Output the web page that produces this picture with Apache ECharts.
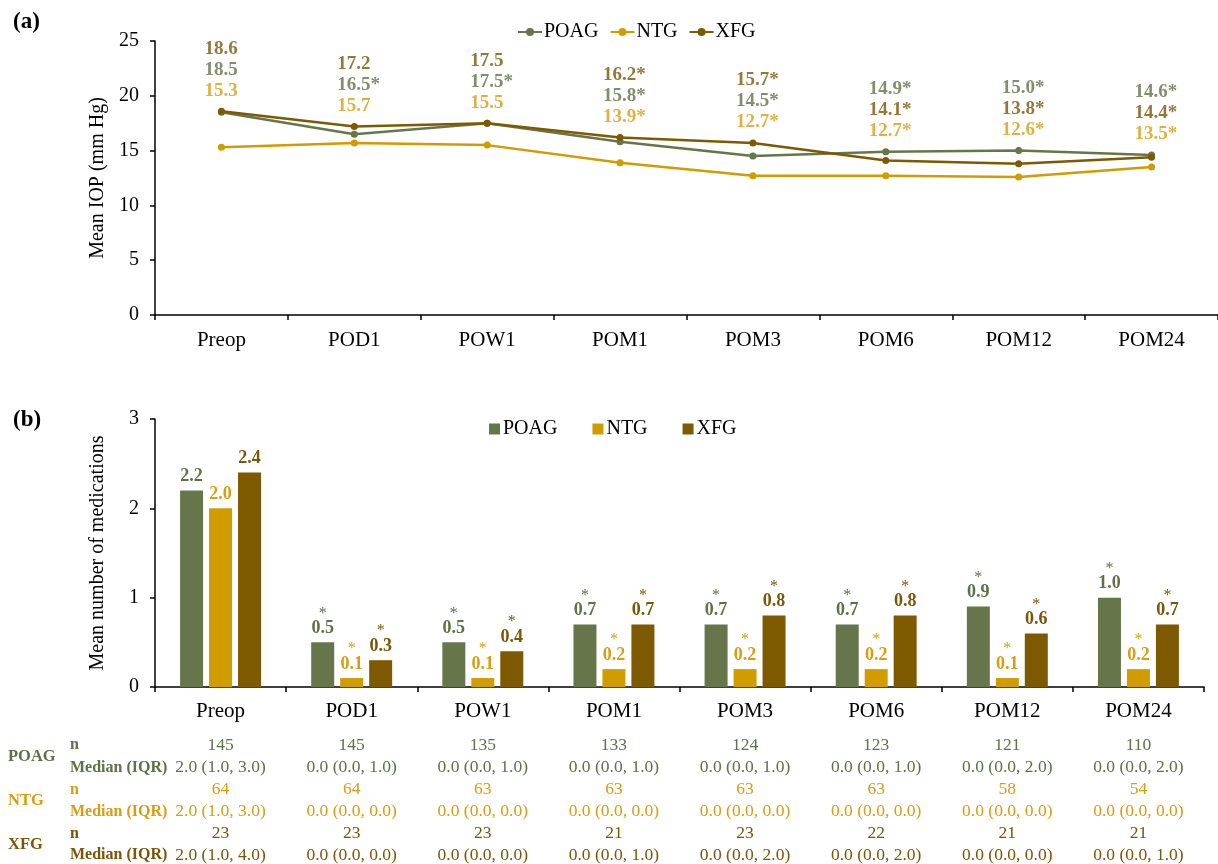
<!DOCTYPE html>
<html>
<head>
<meta charset="utf-8">
<script src="https://cdn.jsdelivr.net/npm/echarts@6/dist/echarts.min.js"></script>
<style>
  html, body { margin: 0; padding: 0; background: #ffffff; }
  #chart { width: 1218px; height: 864px; }
</style>
</head>
<body>
<div id="chart"></div>
<script>
// Visit time points
const categories = ['Preop', 'POD1', 'POW1', 'POM1', 'POM3', 'POM6', 'POM12', 'POM24'];

// (a) Mean IOP, mm Hg
const iopPOAG = [18.5, 16.5, 17.5, 15.8, 14.5, 14.9, 15.0, 14.6];
const iopNTG  = [15.3, 15.7, 15.5, 13.9, 12.7, 12.7, 12.6, 13.5];
const iopXFG  = [18.6, 17.2, 17.5, 16.2, 15.7, 14.1, 13.8, 14.4];
// significant change from preop (1 = marked with *)
const iopSigPOAG = [0, 1, 1, 1, 1, 1, 1, 1];
const iopSigNTG  = [0, 0, 0, 1, 1, 1, 1, 1];
const iopSigXFG  = [0, 0, 0, 1, 1, 1, 1, 1];

// (b) Mean number of glaucoma medications
const medPOAG = [2.2, 0.5, 0.5, 0.7, 0.7, 0.7, 0.9, 1.0];
const medNTG  = [2.0, 0.1, 0.1, 0.2, 0.2, 0.2, 0.1, 0.2];
const medXFG  = [2.4, 0.3, 0.4, 0.7, 0.8, 0.8, 0.6, 0.7];
const medSigPOAG = [0, 1, 1, 1, 1, 1, 1, 1];
const medSigNTG  = [0, 1, 1, 1, 1, 1, 1, 1];
const medSigXFG  = [0, 1, 1, 1, 1, 1, 1, 1];

// Table under panel (b)
const nPOAG = [145, 145, 135, 133, 124, 123, 121, 110];
const nNTG  = [64, 64, 63, 63, 63, 63, 58, 54];
const nXFG  = [23, 23, 23, 21, 23, 22, 21, 21];
const medianPOAG = ['2.0 (1.0, 3.0)', '0.0 (0.0, 1.0)', '0.0 (0.0, 1.0)', '0.0 (0.0, 1.0)', '0.0 (0.0, 1.0)', '0.0 (0.0, 1.0)', '0.0 (0.0, 2.0)', '0.0 (0.0, 2.0)'];
const medianNTG  = ['2.0 (1.0, 3.0)', '0.0 (0.0, 0.0)', '0.0 (0.0, 0.0)', '0.0 (0.0, 0.0)', '0.0 (0.0, 0.0)', '0.0 (0.0, 0.0)', '0.0 (0.0, 0.0)', '0.0 (0.0, 0.0)'];
const medianXFG  = ['2.0 (1.0, 4.0)', '0.0 (0.0, 0.0)', '0.0 (0.0, 0.0)', '0.0 (0.0, 1.0)', '0.0 (0.0, 2.0)', '0.0 (0.0, 2.0)', '0.0 (0.0, 0.0)', '0.0 (0.0, 1.0)'];

const FONT = '"Liberation Serif", "Times New Roman", serif';
const COL = { POAG: '#66764a', NTG: '#d09c00', XFG: '#7d5a00' };
const TXT = { POAG: '#617046', NTG: '#d69e10', XFG: '#7a5606' };

const groups = [
  { key: 'POAG', iop: iopPOAG, iopSig: iopSigPOAG, med: medPOAG, medSig: medSigPOAG, n: nPOAG, median: medianPOAG },
  { key: 'NTG',  iop: iopNTG,  iopSig: iopSigNTG,  med: medNTG,  medSig: medSigNTG,  n: nNTG,  median: medianNTG },
  { key: 'XFG',  iop: iopXFG,  iopSig: iopSigXFG,  med: medXFG,  medSig: medSigXFG,  n: nXFG,  median: medianXFG }
];

const chart = echarts.init(document.getElementById('chart'), null, { renderer: 'canvas' });

const axisLineStyle = { color: '#000', width: 1.5 };
const tickLabel = { color: '#000', fontFamily: FONT, fontSize: 20 };

// stacked value labels above each time point of panel (a), highest value first
const labelOrder = ['XFG', 'POAG', 'NTG'];
const iopRich = {};
groups.forEach(g => {
  iopRich[g.key] = { color: TXT[g.key], fontFamily: FONT, fontWeight: 'bold', fontSize: 19, lineHeight: 21 };
});
const iopTop = categories.map((c, i) => Math.max(iopPOAG[i], iopNTG[i], iopXFG[i]));

function iopLabel(p) {
  const i = p.dataIndex;
  const items = labelOrder.map(k => groups.find(g => g.key === k));
  items.sort((a, b) => b.iop[i] - a.iop[i]);
  return items.map(g => '{' + g.key + '|' + g.iop[i].toFixed(1) + (g.iopSig[i] ? '*' : '') + '}').join('\n');
}

const lineSeries = groups.map(g => ({
  name: g.key,
  type: 'line',
  xAxisIndex: 0,
  yAxisIndex: 0,
  data: g.iop,
  symbol: 'circle',
  symbolSize: 7,
  lineStyle: { color: COL[g.key], width: 2.5 },
  itemStyle: { color: COL[g.key] },
  z: g.key === 'NTG' ? 2 : 3,
  animation: false
}));

const barSeries = groups.map(g => ({
  name: g.key,
  type: 'bar',
  xAxisIndex: 1,
  yAxisIndex: 1,
  data: g.med,
  barWidth: 23,
  barGap: '26%',
  itemStyle: { color: COL[g.key] },
  label: {
    show: true,
    position: 'top',
    distance: 4,
    formatter: p => (g.medSig[p.dataIndex] ? '{s|*}\n' : '') + '{v|' + g.med[p.dataIndex].toFixed(1) + '}',
    rich: {
      s: { color: TXT[g.key], fontFamily: FONT, fontSize: 16, lineHeight: 9, padding: [0, 0, 1, 0] },
      v: { color: TXT[g.key], fontFamily: FONT, fontWeight: 'bold', fontSize: 18, lineHeight: 20 }
    }
  },
  animation: false
}));

const option = {
  backgroundColor: '#ffffff',
  animation: false,
  title: [
    { text: '(a)', left: 8, top: 6, textStyle: { fontFamily: FONT, fontWeight: 'bold', fontSize: 23, color: '#000' } },
    { text: '(b)', left: 8, top: 404, textStyle: { fontFamily: FONT, fontWeight: 'bold', fontSize: 23, color: '#000' } }
  ],
  legend: [
    {
      data: ['POAG', 'NTG', 'XFG'],
      left: 512, top: 17,
      itemWidth: 24, itemHeight: 10, itemGap: 11,
      textStyle: { fontFamily: FONT, fontSize: 20, color: '#000', padding: [0, 0, 0, -3] },
      selectedMode: false
    },
    {
      data: [{ name: 'POAG', icon: 'rect' }, { name: 'NTG', icon: 'rect' }, { name: 'XFG', icon: 'rect' }],
      left: 484, top: 414,
      itemWidth: 11, itemHeight: 11, itemGap: 35,
      textStyle: { fontFamily: FONT, fontSize: 20, color: '#000', padding: [0, 0, 0, -2] },
      selectedMode: false
    }
  ],
  grid: [
    { left: 155, right: 0, top: 41, bottom: 864 - 315 },
    { left: 155, right: 14, top: 419, bottom: 864 - 687 }
  ],
  xAxis: [
    {
      type: 'category', gridIndex: 0, data: categories, boundaryGap: true,
      axisLine: { lineStyle: axisLineStyle },
      axisTick: { show: true, length: 5, lineStyle: axisLineStyle },
      axisLabel: Object.assign({ margin: 15 }, tickLabel, { fontSize: 21 })
    },
    {
      type: 'category', gridIndex: 1, data: categories, boundaryGap: true,
      axisLine: { lineStyle: axisLineStyle },
      axisTick: { show: true, length: 5, lineStyle: axisLineStyle },
      axisLabel: Object.assign({ margin: 14 }, tickLabel, { fontSize: 21 })
    }
  ],
  yAxis: [
    {
      type: 'value', gridIndex: 0, min: 0, max: 25, interval: 5,
      name: 'Mean IOP (mm Hg)', nameLocation: 'middle', nameGap: 47,
      nameTextStyle: { fontFamily: FONT, fontSize: 20, color: '#000' },
      axisLine: { show: true, lineStyle: axisLineStyle },
      axisTick: { show: true, length: 5, lineStyle: axisLineStyle },
      axisLabel: Object.assign({ margin: 16 }, tickLabel),
      splitLine: { show: false }
    },
    {
      type: 'value', gridIndex: 1, min: 0, max: 3, interval: 1,
      name: 'Mean number of medications', nameLocation: 'middle', nameGap: 47,
      nameTextStyle: { fontFamily: FONT, fontSize: 20, color: '#000' },
      axisLine: { show: true, lineStyle: axisLineStyle },
      axisTick: { show: true, length: 5, lineStyle: axisLineStyle },
      axisLabel: Object.assign({ margin: 16 }, tickLabel),
      splitLine: { show: false }
    }
  ],
  series: lineSeries.concat([
    {
      name: 'iop-labels',
      type: 'scatter',
      xAxisIndex: 0,
      yAxisIndex: 0,
      data: iopTop,
      symbolSize: 0,
      silent: true,
      z: 5,
      label: {
        show: true,
        position: 'top',
        distance: 10,
        align: 'left',
        offset: [-17, 0],
        formatter: iopLabel,
        rich: iopRich
      },
      animation: false
    }
  ]).concat(barSeries)
};

chart.setOption(option);

// table of n and median (IQR) below panel (b), aligned to the category centres
const rowY = [745, 767.5, 789.5, 811.5, 833.5, 855];
const graphics = [];
groups.forEach((g, gi) => {
  const yN = rowY[gi * 2];
  const yM = rowY[gi * 2 + 1];
  graphics.push({
    type: 'text', x: 8, y: (yN + yM) / 2,
    style: { text: g.key, fill: TXT[g.key], fontFamily: FONT, fontWeight: 'bold', fontSize: 16.5, align: 'left', verticalAlign: 'middle' }
  });
  graphics.push({
    type: 'text', x: 70, y: yN,
    style: { text: 'n', fill: TXT[g.key], fontFamily: FONT, fontWeight: 'bold', fontSize: 16, align: 'left', verticalAlign: 'middle' }
  });
  graphics.push({
    type: 'text', x: 70, y: yM,
    style: { text: 'Median (IQR)', fill: TXT[g.key], fontFamily: FONT, fontWeight: 'bold', fontSize: 16, align: 'left', verticalAlign: 'middle' }
  });
  categories.forEach((c, ci) => {
    const cx = chart.convertToPixel({ xAxisIndex: 1 }, c);
    graphics.push({
      type: 'text', x: cx, y: yN,
      style: { text: String(g.n[ci]), fill: TXT[g.key], fontFamily: FONT, fontSize: 17.5, align: 'center', verticalAlign: 'middle' }
    });
    graphics.push({
      type: 'text', x: cx, y: yM,
      style: { text: g.median[ci], fill: TXT[g.key], fontFamily: FONT, fontSize: 17.5, align: 'center', verticalAlign: 'middle' }
    });
  });
});
chart.setOption({ graphic: graphics });
</script>
</body>
</html>
